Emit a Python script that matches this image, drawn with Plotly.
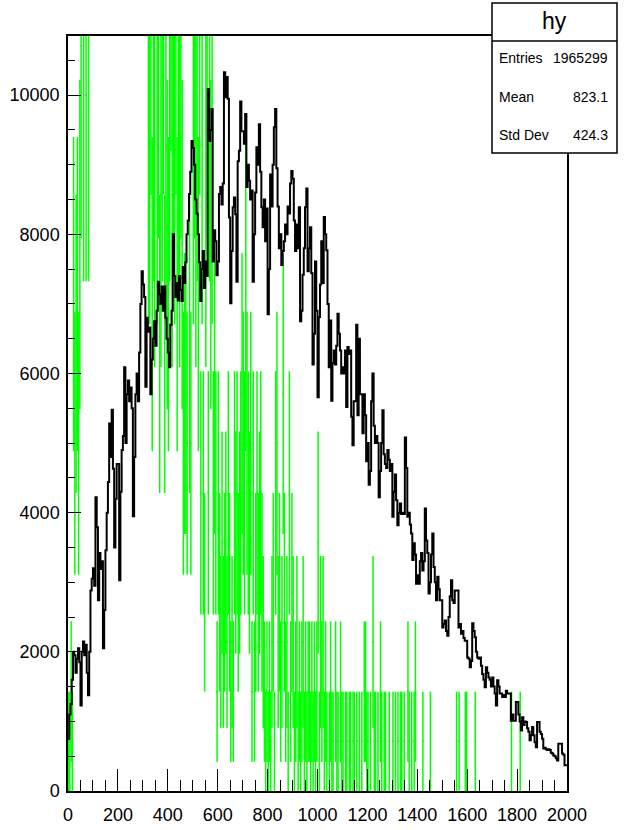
import numpy as np
import plotly.graph_objects as go

# histogram "hy": 400 bins of width 5 on [0, 2000]
bin_width = 5
x_min, x_max = 0, 2000

hy_counts = [
    750, 1100, 1250, 1600, 2000, 1950, 1700, 1900, 2050, 1850, 1230, 2000, 2150, 1950, 2100, 1700, 1375, 2000, 2880, 3050,
    3200, 2950, 4220, 3790, 2740, 3420, 3190, 3300, 2050, 2600, 3460, 4000, 4440, 5280, 4800, 5480, 4630, 3500, 4200, 4700,
    4700, 3030, 4300, 4900, 5100, 6090, 5000, 5700, 5900, 5600, 5800, 5500, 3950, 4800, 5700, 6000, 5600, 6300, 7000, 7470,
    7280, 7100, 5810, 6800, 6600, 6660, 5700, 6200, 6500, 6750, 6400, 6900, 7320, 7140, 7000, 7250, 6900, 7250, 6800, 6500,
    6300, 6090, 6700, 6900, 8000, 7400, 7100, 7300, 7050, 7400, 7200, 7040, 7530, 7300, 7600, 8000, 8200, 8580, 8900, 9340,
    9240, 9000, 8500, 8300, 8000, 7600, 7040, 7500, 7760, 7230, 7610, 7400, 10090, 9340, 9500, 9800, 7610, 8060, 7900, 7410,
    7610, 8580, 8680, 8430, 8730, 10330, 9970, 10260, 9950, 8240, 7010, 7760, 8390, 8530, 8290, 7320, 9050, 9200, 9910, 9480,
    9480, 9300, 9730, 8680, 9000, 8770, 8500, 8630, 7320, 8000, 8600, 9250, 9000, 9580, 8900, 8390, 8100, 8500, 7900, 8370,
    6850, 7500, 8860, 8400, 9000, 9540, 9800, 8950, 8400, 7800, 8000, 7560, 7760, 7900, 8140, 8000, 8400, 8300, 8730, 8910,
    8800, 8200, 7760, 8140, 7800, 8390, 6750, 6900, 7420, 7800, 8390, 8660, 7470, 7800, 8100, 7440, 6130, 6570, 7610, 6900,
    5660, 6810, 7280, 7900, 7300, 8250, 8000, 7770, 7000, 6090, 6760, 5610, 6150, 6330, 6130, 6400, 6860, 6570, 6330, 6000,
    6090, 6000, 6330, 5520, 6380, 6280, 6330, 5380, 4970, 5600, 5600, 6700, 5400, 6500, 5700, 5700, 5140, 5700, 5400, 4740,
    5000, 4400, 4600, 5600, 6000, 5250, 5000, 5100, 5000, 4220, 4600, 5000, 5470, 4840, 4700, 4640, 4900, 4760, 4600, 4700,
    3940, 4300, 4550, 4180, 3820, 4000, 4130, 3980, 4000, 3980, 5080, 4640, 3940, 4000, 3830, 3700, 3320, 3560, 3400, 2980,
    3100, 2980, 3300, 3420, 3170, 3300, 4060, 3600, 3420, 2840, 3000, 3400, 3700, 3220, 3000, 2740, 3080, 2900, 2740, 2740,
    2350, 2400, 2450, 2300, 2230, 2500, 2800, 3030, 2740, 2700, 2880, 2880, 2880, 2350, 2400, 2260, 2300, 2200, 2160, 2160,
    1920, 1900, 1780, 1870, 2410, 2300, 2210, 2000, 1920, 1900, 1920, 1800, 1680, 1600, 1490, 1780, 1700, 1630, 1600, 1500,
    1630, 1500, 1400, 1230, 1590, 1500, 1400, 1400, 1350, 1380, 1350, 1440, 1400, 1400, 1400, 1010, 1100, 1010, 1010, 1280,
    1280, 1100, 1000, 870, 1060, 950, 1000, 990, 900, 850, 730, 800, 920, 800, 700, 630, 990, 990, 850, 820,
    750, 610, 620, 600, 590, 600, 590, 550, 540, 510, 500, 470, 440, 680, 680, 680, 540, 520, 370, 370,
]

# second histogram: weighted entries (each entry weight ~714), drawn with error bars
green_weight = 714
green_entries = [
    1, 1, 2, 1, 10, 7, 9, 10, 7, 11, 15, 0, 14, 0, 14, 0, 14, 0, 0, 0,
    0, 0, 0, 0, 0, 0, 0, 0, 0, 0, 0, 0, 0, 0, 0, 0, 0, 0, 0, 0,
    0, 0, 0, 0, 0, 0, 0, 0, 0, 0, 0, 0, 0, 0, 0, 0, 0, 0, 0, 0,
    0, 0, 0, 0, 13, 13, 16, 10, 14, 12, 0, 13, 15, 9, 12, 14, 16, 9, 13, 11,
    10, 14, 17, 12, 15, 13, 16, 10, 14, 12, 15, 11, 7, 8, 8, 7, 0, 9, 7, 0,
    13, 15, 12, 14, 10, 16, 6, 13, 6, 4, 12, 15, 6, 14, 11, 13, 6, 8, 6, 2,
    6, 4, 3, 5, 3, 4, 5, 3, 6, 4, 2, 3, 2, 6, 5, 6, 4, 5, 6, 8,
    7, 6, 10, 7, 6, 5, 7, 2, 6, 2, 4, 6, 4, 5, 6, 4, 3, 2, 1, 2,
    1, 2, 1, 3, 4, 1, 6, 7, 3, 4, 2, 3, 8, 4, 2, 3, 1, 6, 2, 4,
    3, 1, 2, 3, 1, 2, 1, 2, 3, 1, 2, 1, 2, 2, 1, 2, 1, 2, 1, 2,
    5, 1, 3, 2, 3, 1, 2, 1, 0, 1, 2, 1, 1, 0, 2, 1, 1, 0, 2, 1,
    1, 0, 1, 1, 0, 1, 1, 0, 1, 1, 0, 1, 0, 1, 0, 1, 0, 2, 2, 1,
    1, 0, 1, 0, 3, 1, 1, 0, 1, 0, 2, 1, 0, 1, 1, 0, 0, 1, 0, 0,
    1, 0, 1, 0, 1, 0, 1, 1, 0, 1, 0, 0, 2, 1, 0, 1, 0, 1, 2, 0,
    0, 0, 0, 0, 1, 0, 0, 0, 0, 0, 1, 0, 0, 0, 0, 0, 0, 0, 0, 0,
    0, 0, 0, 0, 0, 0, 0, 0, 0, 0, 0, 1, 0, 1, 0, 0, 0, 0, 1, 1,
    0, 0, 0, 0, 0, 0, 1, 0, 0, 0, 0, 0, 0, 0, 0, 0, 0, 0, 0, 0,
    0, 0, 0, 0, 0, 0, 0, 0, 0, 0, 0, 0, 0, 0, 0, 1, 0, 0, 0, 0,
    0, 0, 1, 0, 0, 0, 0, 0, 0, 0, 0, 0, 0, 0, 0, 0, 0, 0, 0, 0,
    0, 0, 0, 0, 0, 0, 0, 0, 0, 0, 0, 0, 0, 0, 0, 0, 0, 0, 0, 0,
]

stats_title = "hy"
stats_rows = [("Entries", "1965299"), ("Mean", "823.1"), ("Std Dev", "424.3")]

y_max = 10850

edges = np.arange(x_min, x_max + bin_width, bin_width)
centers = edges[:-1] + bin_width / 2

W, H = 626, 830
L, R, T, B = 68, 59, 36, 39
pw, ph = W - L - R, H - T - B


def px(xp):
    return (xp - L) / pw


def py(yp):
    return (H - B - yp) / ph


font = "Liberation Sans, Arial, Helvetica, sans-serif"

fig = go.Figure()

g = np.array(green_entries, dtype=float)
mask = g > 0
fig.add_trace(go.Scatter(
    x=centers[mask], y=g[mask] * green_weight,
    mode="markers",
    marker=dict(size=1, color="#00ff00"),
    error_y=dict(type="data", array=np.sqrt(g[mask]) * green_weight,
                 color="#00ff00", thickness=1.5, width=0),
    error_x=dict(type="constant", value=bin_width / 2,
                 color="#00ff00", thickness=1.5, width=0),
    showlegend=False, hoverinfo="skip",
))

fig.add_trace(go.Scatter(
    x=edges, y=list(hy_counts) + [hy_counts[-1]],
    mode="lines", line=dict(color="black", width=2, shape="hv"),
    showlegend=False, hoverinfo="skip",
))

fig.update_xaxes(
    range=[x_min, x_max], tickmode="linear", tick0=0, dtick=200,
    ticks="inside", ticklen=22, tickwidth=1, tickcolor="black",
    minor=dict(dtick=50, ticks="inside", ticklen=11, tickwidth=1, tickcolor="black"),
    showline=True, linecolor="black", linewidth=1.5, mirror=True,
    showgrid=False, zeroline=False, tickformat="d", automargin=False,
    tickfont=dict(family=font, size=18, color="black"),
    ticklabelstandoff=7,
)
fig.update_yaxes(
    range=[0, y_max], tickmode="linear", tick0=0, dtick=2000,
    ticks="inside", ticklen=13, tickwidth=1, tickcolor="black",
    minor=dict(dtick=500, ticks="inside", ticklen=7, tickwidth=1, tickcolor="black"),
    showline=True, linecolor="black", linewidth=1.5, mirror=True,
    showgrid=False, zeroline=False, tickformat="d", automargin=False,
    tickfont=dict(family=font, size=18, color="black"),
    ticklabelstandoff=3,
)

# stats box
bx0, bx1, by0, by1, bdiv = 492, 617, 3, 153, 41
fig.add_shape(type="rect", xref="paper", yref="paper",
              x0=px(bx0), x1=px(bx1), y0=py(by1), y1=py(by0),
              fillcolor="white", line=dict(color="black", width=1.5), layer="above")
fig.add_shape(type="line", xref="paper", yref="paper",
              x0=px(bx0), x1=px(bx1), y0=py(bdiv), y1=py(bdiv),
              line=dict(color="black", width=1.5), layer="above")
fig.add_annotation(xref="paper", yref="paper", x=px((bx0 + bx1) / 2), y=py(21),
                   text=stats_title, showarrow=False, xanchor="center", yanchor="middle",
                   font=dict(family=font, size=23, color="black"))
for i, (lab, val) in enumerate(stats_rows):
    yy = py(58 + i * 38.5)
    fig.add_annotation(xref="paper", yref="paper", x=px(497), y=yy, text=lab,
                       showarrow=False, xanchor="left", yanchor="middle",
                       font=dict(family=font, size=14, color="black"))
    fig.add_annotation(xref="paper", yref="paper", x=px(610), y=yy, text=val,
                       showarrow=False, xanchor="right", yanchor="middle",
                       font=dict(family=font, size=14, color="black"))

fig.update_layout(
    width=W, height=H,
    margin=dict(l=L, r=R, t=T, b=B, pad=0, autoexpand=False),
    paper_bgcolor="white", plot_bgcolor="white",
)

# drop the browser's default 8px body margin so the figure sits at the page origin
fig.write_html("out.html", config={"displayModeBar": False},
               post_script="document.body.style.margin='0px';")
